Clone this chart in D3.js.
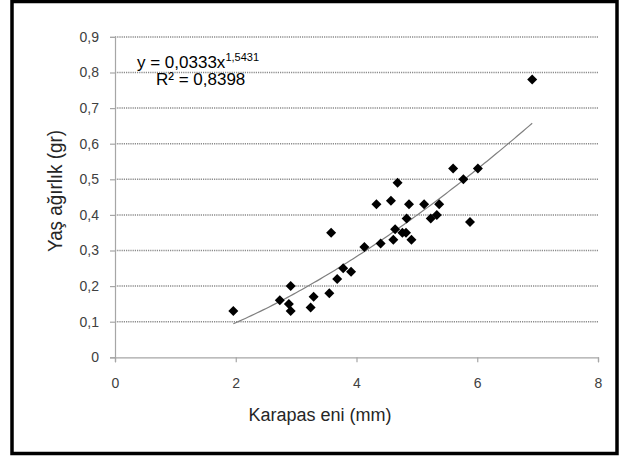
<!DOCTYPE html>
<html>
<head>
<meta charset="utf-8">
<script src="https://cdn.jsdelivr.net/npm/d3@7"></script>
<style>
  body { margin: 0; background: #fff; }
  svg { display: block; font-family: "Liberation Sans", Arial, sans-serif; }
</style>
</head>
<body>
<svg id="chart" width="619" height="457"></svg>
<script>
// Karapas eni (mm) vs Yaş ağırlık (gr)
var karapasEni = [1.96, 2.73, 2.88, 2.91, 2.91, 3.24, 3.29, 3.55, 3.58, 3.68, 3.78,
  3.91, 4.13, 4.33, 4.40, 4.57, 4.61, 4.64, 4.68, 4.76, 4.82, 4.83, 4.87, 4.91,
  5.12, 5.23, 5.33, 5.37, 5.60, 5.77, 5.88, 6.01, 6.91];
var yasAgirlik = [0.13, 0.16, 0.15, 0.13, 0.20, 0.14, 0.17, 0.18, 0.35, 0.22, 0.25,
  0.24, 0.31, 0.43, 0.32, 0.44, 0.33, 0.36, 0.49, 0.35, 0.35, 0.39, 0.43, 0.33,
  0.43, 0.39, 0.40, 0.43, 0.53, 0.50, 0.38, 0.53, 0.78];

var xTicks = [0, 2, 4, 6, 8];
var yTicks = [0, 0.1, 0.2, 0.3, 0.4, 0.5, 0.6, 0.7, 0.8, 0.9];

// power trendline shown on the chart
var trendA = 0.0333;
var trendB = 1.5431;
var trendR2 = "0,8398";

var svg = d3.select("#chart");
var width = 619, height = 457;
var margin = {top: 36.9, right: 21, bottom: 99.7, left: 115};

var x = d3.scaleLinear()
  .domain([0, 8])
  .range([margin.left, width - margin.right]);

var y = d3.scaleLinear()
  .domain([0, 0.9])
  .range([height - margin.bottom, margin.top]);

var comma = function(d) { return d === 0 ? "0" : d3.format(".1f")(d).replace(".", ","); };

// frame
svg.append("rect")
  .attr("x", 12).attr("y", 1.5)
  .attr("width", 605).attr("height", 452)
  .attr("fill", "none")
  .attr("stroke", "#000")
  .attr("stroke-width", 3.5);

// grid
svg.append("g")
  .selectAll("line")
  .data(yTicks.filter(d => d > 0))
  .enter().append("line")
  .attr("x1", x(0)).attr("x2", x(8))
  .attr("y1", d => y(d)).attr("y2", d => y(d))
  .attr("stroke", "#8a8a8a")
  .attr("stroke-width", 1.5)
  .attr("stroke-dasharray", "1.2,1");

// axes
var yAxis = d3.axisLeft(y).tickValues(yTicks).tickFormat(comma).tickSizeOuter(0).tickSize(5).tickPadding(11);
var xAxis = d3.axisBottom(x).tickValues(xTicks).tickSizeOuter(0).tickSize(5).tickPadding(16);

var gy = svg.append("g")
  .attr("transform", `translate(${x(0)},0)`)
  .call(yAxis);
var gx = svg.append("g")
  .attr("transform", `translate(0,${y(0)})`)
  .call(xAxis);

[gx, gy].forEach(function(g) {
  g.select(".domain").attr("stroke", "#a6a6a6").attr("stroke-width", 1.2);
  g.selectAll(".tick line").attr("stroke", "#a6a6a6").attr("stroke-width", 1.2);
  g.selectAll(".tick text")
    .attr("fill", "#404040")
    .style("font-size", "14px")
    .style("font-family", "'Liberation Sans', Arial, sans-serif");
});

// trendline
var xs = d3.range(0, 101).map(i => 1.96 + (6.91 - 1.96) * i / 100);
var trendLine = d3.line()
  .x(d => x(d))
  .y(d => y(trendA * Math.pow(d, trendB)));

svg.append("path")
  .datum(xs)
  .attr("fill", "none")
  .attr("stroke", "#7f7f7f")
  .attr("stroke-width", 1.2)
  .attr("d", trendLine);

// points
var diamond = d3.symbol().type(d3.symbolSquare).size(50);
svg.append("g")
  .selectAll("path")
  .data(karapasEni.map((d, i) => [d, yasAgirlik[i]]))
  .enter().append("path")
  .attr("d", diamond)
  .attr("transform", d => `translate(${x(d[0])},${y(d[1])}) rotate(45)`)
  .attr("fill", "#000");

// equation
var eq = svg.append("text")
  .attr("x", 137).attr("y", 68)
  .attr("fill", "#000")
  .style("font-size", "17px");
eq.append("tspan").text("y = " + String(trendA).replace(".", ",") + "x");
eq.append("tspan")
  .attr("dy", -7)
  .style("font-size", "11px")
  .text(String(trendB).replace(".", ","));

svg.append("text")
  .attr("x", 156).attr("y", 85)
  .attr("fill", "#000")
  .style("font-size", "17px")
  .text("R² = " + trendR2);

// axis titles
svg.append("text")
  .attr("x", 320).attr("y", 421)
  .attr("text-anchor", "middle")
  .attr("fill", "#262626")
  .style("font-size", "18px")
  .text("Karapas eni (mm)");

svg.append("text")
  .attr("transform", "translate(61.5,191) rotate(-90)")
  .attr("text-anchor", "middle")
  .attr("fill", "#262626")
  .attr("textLength", 122)
  .attr("lengthAdjust", "spacingAndGlyphs")
  .style("font-size", "20px")
  .text("Yaş ağırlık (gr)");
</script>
</body>
</html>
